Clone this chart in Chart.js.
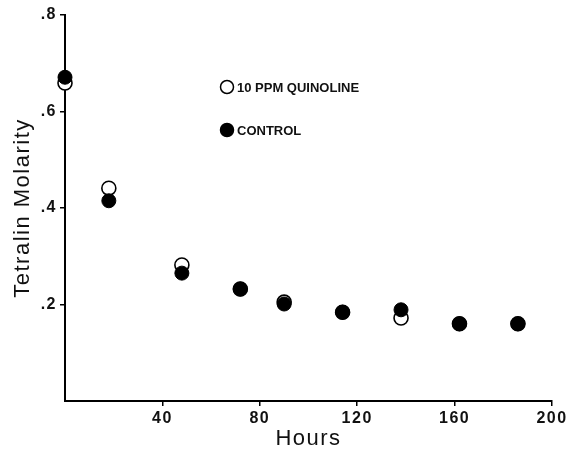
<!DOCTYPE html>
<html>
<head>
<meta charset="utf-8">
<script src="https://cdn.jsdelivr.net/npm/chart.js@4/dist/chart.umd.min.js"></script>
<style>
  html, body { margin: 0; padding: 0; background: #fff; }
  #wrap { width: 571px; height: 452px; position: relative; }
</style>
</head>
<body>
<div id="wrap"><canvas id="c" width="571" height="452"></canvas></div>
<script>
// ---- data ----
const hours = [0, 18, 48, 72, 90, 114, 138, 162, 186];
const control = [0.671, 0.415, 0.265, 0.232, 0.201, 0.184, 0.189, 0.160, 0.160];
const quinoline = [0.659, 0.441, 0.282, 0.232, 0.205, 0.184, 0.172, 0.160, 0.160];
const seriesNames = ['10 PPM QUINOLINE', 'CONTROL'];
const xTicks = [40, 80, 120, 160, 200];
const yTickLabels = {0.2: '.2', 0.4: '.4', 0.6: '.6', 0.8: '.8'};
const xTitle = 'Hours';
const yTitle = 'Tetralin Molarity';

const pts = (xs, ys) => xs.map((x, i) => ({x: x, y: ys[i]}));
const FONT = "'Liberation Sans', Arial, sans-serif";

const spacingPlugin = {
  id: 'spacing',
  beforeDraw(chart) { chart.ctx.letterSpacing = '1.5px'; },
  afterDraw(chart) {
    const ctx = chart.ctx;
    ctx.save();
    ctx.letterSpacing = '0px';
    // legend
    const items = [
      {label: seriesNames[0], fill: '#fff', y: 87},
      {label: seriesNames[1], fill: '#000', y: 130}
    ];
    ctx.font = 'bold 13px ' + FONT;
    ctx.textBaseline = 'middle';
    ctx.textAlign = 'left';
    items.forEach(it => {
      ctx.beginPath();
      ctx.arc(227, it.y, 6.5, 0, Math.PI * 2);
      ctx.fillStyle = it.fill;
      ctx.fill();
      ctx.lineWidth = 1.5;
      ctx.strokeStyle = '#000';
      ctx.stroke();
      ctx.fillStyle = '#111';
      ctx.fillText(it.label, 237, it.y + 1);
    });
    ctx.restore();
  }
};

new Chart(document.getElementById('c'), {
  type: 'scatter',
  data: {
    datasets: [
      {
        label: seriesNames[1],
        data: pts(hours, control),
        pointRadius: 7,
        pointHoverRadius: 7,
        pointBackgroundColor: '#000',
        pointBorderColor: '#000',
        pointBorderWidth: 1,
        clip: false
      },
      {
        label: seriesNames[0],
        data: pts(hours, quinoline),
        pointRadius: 7,
        pointHoverRadius: 7,
        pointBackgroundColor: '#fff',
        pointBorderColor: '#000',
        pointBorderWidth: 1.6,
        clip: false
      }
    ]
  },
  options: {
    responsive: false,
    animation: false,
    events: [],
    layout: { padding: { top: 15, right: 19, left: 0, bottom: 0 } },
    plugins: { legend: { display: false }, tooltip: { enabled: false } },
    scales: {
      x: {
        type: 'linear',
        min: 0, max: 200,
        afterBuildTicks: (s) => { s.ticks = xTicks.map(v => ({value: v})); },
        afterFit: (s) => { s.height = 51; },
        ticks: {
          color: '#111',
          font: { family: FONT, size: 16, weight: 'bold' },
          padding: 3,
          maxRotation: 0,
          callback: (v) => String(v)
        },
        grid: { display: true, drawOnChartArea: false, drawTicks: true, tickLength: 5, color: '#000', lineWidth: 1.5 },
        border: { display: true, color: '#000', width: 2 },
        title: {
          display: true, text: xTitle, color: '#111',
          font: { family: FONT, size: 22 },
          padding: { top: 0, bottom: 0 }
        }
      },
      y: {
        type: 'linear',
        min: 0, max: 0.8,
        afterBuildTicks: (s) => { s.ticks = Object.keys(yTickLabels).map(v => ({value: parseFloat(v)})); },
        afterFit: (s) => { s.width = 65; },
        ticks: {
          color: '#111',
          font: { family: FONT, size: 16, weight: 'bold' },
          padding: 3,
          callback: (v) => yTickLabels[Math.round(v * 10) / 10] || ''
        },
        grid: { display: true, drawOnChartArea: false, drawTicks: true, tickLength: 5, color: '#000', lineWidth: 1.5 },
        border: { display: true, color: '#000', width: 2 },
        title: {
          display: true, text: yTitle, color: '#111',
          font: { family: FONT, size: 22 },
          padding: { top: 10, bottom: 0 }
        }
      }
    }
  },
  plugins: [spacingPlugin]
});
</script>
</body>
</html>
